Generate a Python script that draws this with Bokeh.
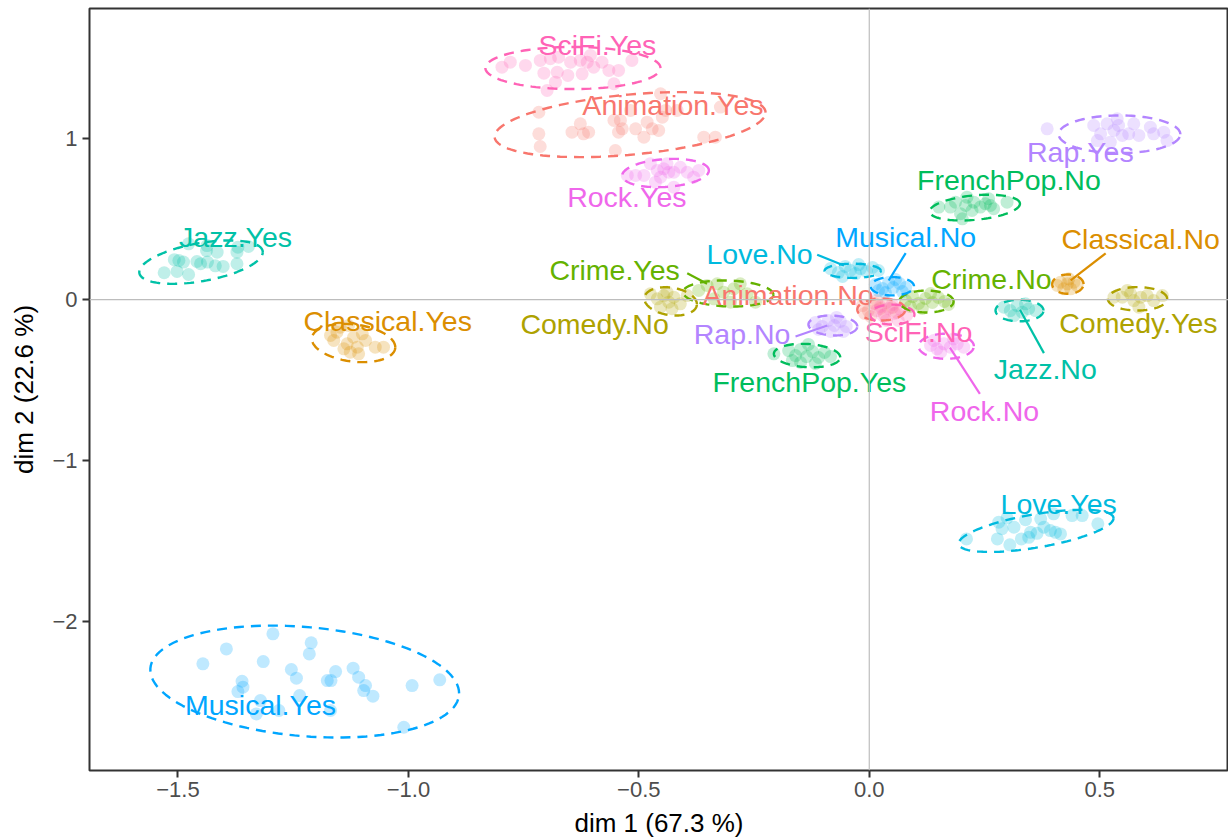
import numpy as np
from bokeh.plotting import figure
from bokeh.models import ColumnDataSource, Span, Range1d, FixedTicker
from bokeh.core.properties import value
from bokeh.embed import file_html
from bokeh.resources import INLINE

# ---------------- data ----------------
CATEGORIES = ["Animation.No", "Animation.Yes", "Classical.No", "Classical.Yes",
              "Comedy.No", "Comedy.Yes", "Crime.No", "Crime.Yes",
              "FrenchPop.No", "FrenchPop.Yes", "Jazz.No", "Jazz.Yes",
              "Love.No", "Love.Yes", "Musical.No", "Musical.Yes",
              "Rap.No", "Rap.Yes", "Rock.No", "Rock.Yes", "SciFi.No", "SciFi.Yes"]

ANIMATION_NO_X = [-0.015, -0.002, 0.011, 0.024, 0.037, 0.050, 0.003, 0.033, 0.059, 0.016, -0.010]
ANIMATION_NO_Y = [-0.037, -0.068, -0.024, -0.055, -0.018, -0.049, -0.105, -0.093, -0.080, -0.006, -0.086]
ANIMATION_YES_X = [-0.717, -0.717, -0.714, -0.645, -0.627, -0.620, -0.609, -0.551, -0.554, -0.540, -0.544, -0.536,
                   -0.507, -0.489, -0.482, -0.471, -0.457, -0.449, -0.453, -0.442, -0.417, -0.359, -0.334, -0.323, -0.518]
ANIMATION_YES_Y = [1.165, 1.031, 0.952, 1.041, 1.093, 1.031, 1.041, 0.927, 1.114, 1.114, 1.041, 1.062,
                   1.062, 1.010, 1.103, 1.062, 1.052, 1.134, 1.280, 1.176, 1.176, 1.010, 1.010, 1.197, 1.176]
CLASSICAL_NO_X = [0.415, 0.430, 0.444, 0.422, 0.437, 0.451, 0.408, 0.433]
CLASSICAL_NO_Y = [0.108, 0.098, 0.108, 0.067, 0.067, 0.088, 0.088, 0.129]
CLASSICAL_YES_X = [-1.169, -1.155, -1.162, -1.133, -1.119, -1.100, -1.093, -1.111, -1.126, -1.140, -1.108,
                   -1.072, -1.054, -1.148, -1.130]
CLASSICAL_YES_Y = [-0.223, -0.203, -0.254, -0.275, -0.234, -0.213, -0.254, -0.296, -0.327, -0.306, -0.337,
                   -0.296, -0.296, -0.172, -0.161]
COMEDY_NO_X = [-0.475, -0.460, -0.446, -0.435, -0.424, -0.410, -0.395, -0.453, -0.428, -0.439]
COMEDY_NO_Y = [0.036, 0.005, 0.025, -0.016, 0.015, -0.026, 0.025, -0.047, -0.057, 0.046]
COMEDY_YES_X = [0.531, 0.549, 0.567, 0.574, 0.589, 0.603, 0.617, 0.636, 0.585, 0.560]
COMEDY_YES_Y = [0.015, 0.015, 0.036, -0.006, 0.015, 0.025, -0.006, 0.025, -0.047, 0.057]
CRIME_NO_X = [0.079, 0.094, 0.107, 0.122, 0.137, 0.150, 0.163, 0.115, 0.133, 0.089, 0.172]
CRIME_NO_Y = [-0.006, 0.019, -0.024, 0.007, -0.018, 0.013, -0.012, -0.055, 0.038, -0.043, -0.030]
CRIME_YES_X = [-0.370, -0.352, -0.330, -0.316, -0.294, -0.280, -0.265, -0.247, -0.301, -0.337]
CRIME_YES_Y = [0.057, 0.088, 0.098, 0.046, 0.067, 0.098, 0.036, -0.016, -0.016, 0.005]
FRENCHPOP_NO_X = [0.151, 0.176, 0.187, 0.198, 0.209, 0.227, 0.223, 0.241, 0.252, 0.263, 0.270, 0.299,
                  0.202, 0.212, 0.259]
FRENCHPOP_NO_Y = [0.575, 0.575, 0.606, 0.534, 0.585, 0.606, 0.554, 0.575, 0.596, 0.585, 0.565, 0.606,
                  0.502, 0.637, 0.627]
FRENCHPOP_YES_X = [-0.207, -0.175, -0.160, -0.149, -0.136, -0.123, -0.110, -0.097, -0.084, -0.149, -0.117,
                   -0.167, -0.132]
FRENCHPOP_YES_Y = [-0.337, -0.317, -0.348, -0.310, -0.354, -0.323, -0.360, -0.329, -0.354, -0.391, -0.397,
                   -0.379, -0.279]
JAZZ_NO_X = [0.292, 0.306, 0.321, 0.332, 0.346, 0.361, 0.314, 0.339]
JAZZ_NO_Y = [-0.047, -0.068, -0.037, -0.078, -0.057, -0.068, -0.099, -0.026]
JAZZ_YES_X = [-1.530, -1.502, -1.477, -1.508, -1.498, -1.488, -1.459, -1.451, -1.436, -1.438, -1.415,
              -1.419, -1.402, -1.372, -1.372, -1.370, -1.347, -1.477, -1.437]
JAZZ_YES_Y = [0.167, 0.175, 0.156, 0.248, 0.243, 0.233, 0.237, 0.223, 0.233, 0.305, 0.295,
              0.210, 0.206, 0.223, 0.295, 0.326, 0.330, 0.347, 0.336]
LOVE_NO_X = [-0.084, -0.067, -0.052, -0.041, -0.030, -0.019, -0.006, 0.007, 0.020, -0.058, -0.023]
LOVE_NO_Y = [0.193, 0.168, 0.206, 0.181, 0.162, 0.193, 0.175, 0.200, 0.181, 0.144, 0.218]
LOVE_YES_X = [0.211, 0.281, 0.299, 0.288, 0.278, 0.305, 0.314, 0.339, 0.330, 0.350, 0.364, 0.379,
              0.393, 0.404, 0.415, 0.400, 0.440, 0.462, 0.496, 0.372, 0.346]
LOVE_YES_Y = [-1.488, -1.384, -1.357, -1.425, -1.488, -1.525, -1.415, -1.369, -1.488, -1.447, -1.453, -1.415,
              -1.436, -1.447, -1.457, -1.332, -1.343, -1.343, -1.394, -1.363, -1.478]
MUSICAL_NO_X = [0.013, 0.029, 0.042, 0.052, 0.066, 0.079, 0.035, 0.057, 0.020, 0.072]
MUSICAL_NO_Y = [0.094, 0.069, 0.106, 0.075, 0.100, 0.075, 0.044, 0.125, 0.056, 0.050]
MUSICAL_YES_X = [-1.446, -1.395, -1.294, -1.315, -1.254, -1.243, -1.211, -1.215, -1.158, -1.176, -1.168,
                 -1.120, -1.108, -1.093, -1.097, -1.077, -0.992, -0.932, -1.010, -1.361, -1.359, -1.370,
                 -1.321, -1.330, -1.281, -1.236, -1.169]
MUSICAL_YES_Y = [-2.265, -2.172, -2.078, -2.251, -2.300, -2.354, -2.134, -2.203, -2.313, -2.369, -2.369,
                 -2.292, -2.348, -2.400, -2.431, -2.466, -2.400, -2.364, -2.659, -2.373, -2.410, -2.437,
                 -2.493, -2.576, -2.555, -2.462, -2.555]
RAP_NO_X = [-0.117, -0.102, -0.089, -0.076, -0.063, -0.050, -0.084, -0.056, -0.110, -0.071]
RAP_NO_Y = [-0.142, -0.167, -0.130, -0.161, -0.136, -0.167, -0.198, -0.198, -0.186, -0.111]
RAP_YES_X = [0.386, 0.487, 0.502, 0.516, 0.531, 0.541, 0.549, 0.563, 0.574, 0.585, 0.610, 0.617,
             0.639, 0.646, 0.523, 0.495, 0.538]
RAP_YES_Y = [1.062, 1.083, 1.031, 1.093, 1.052, 1.083, 1.021, 1.031, 1.093, 1.021, 1.072, 1.031,
             1.041, 0.989, 0.979, 0.989, 1.124]
ROCK_NO_X = [0.133, 0.147, 0.162, 0.176, 0.191, 0.205, 0.155, 0.183, 0.140]
ROCK_NO_Y = [-0.285, -0.306, -0.275, -0.296, -0.275, -0.296, -0.327, -0.244, -0.254]
ROCK_YES_X = [-0.525, -0.507, -0.489, -0.475, -0.460, -0.453, -0.446, -0.435, -0.424, -0.410, -0.395,
              -0.370, -0.381, -0.464, -0.439, -0.424]
ROCK_YES_Y = [0.772, 0.772, 0.772, 0.845, 0.803, 0.761, 0.813, 0.792, 0.792, 0.823, 0.792,
              0.803, 0.761, 0.730, 0.845, 0.699]
SCIFI_NO_X = [0.016, 0.029, 0.042, 0.055, 0.068, 0.081, 0.037, 0.063, 0.024, 0.050]
SCIFI_NO_Y = [-0.068, -0.099, -0.055, -0.086, -0.062, -0.099, -0.130, -0.130, -0.043, -0.030]
SCIFI_YES_X = [-0.797, -0.779, -0.746, -0.714, -0.706, -0.681, -0.677, -0.654, -0.699, -0.692, -0.674,
               -0.648, -0.627, -0.623, -0.605, -0.598, -0.580, -0.565, -0.544, -0.554, -0.515, -0.612]
SCIFI_YES_Y = [1.445, 1.476, 1.456, 1.487, 1.408, 1.352, 1.414, 1.394, 1.300, 1.498, 1.507,
               1.476, 1.487, 1.404, 1.518, 1.445, 1.476, 1.425, 1.425, 1.342, 1.487, 1.476]

POINTS_X = [ANIMATION_NO_X, ANIMATION_YES_X, CLASSICAL_NO_X, CLASSICAL_YES_X, COMEDY_NO_X, COMEDY_YES_X,
            CRIME_NO_X, CRIME_YES_X, FRENCHPOP_NO_X, FRENCHPOP_YES_X, JAZZ_NO_X, JAZZ_YES_X,
            LOVE_NO_X, LOVE_YES_X, MUSICAL_NO_X, MUSICAL_YES_X, RAP_NO_X, RAP_YES_X,
            ROCK_NO_X, ROCK_YES_X, SCIFI_NO_X, SCIFI_YES_X]
POINTS_Y = [ANIMATION_NO_Y, ANIMATION_YES_Y, CLASSICAL_NO_Y, CLASSICAL_YES_Y, COMEDY_NO_Y, COMEDY_YES_Y,
            CRIME_NO_Y, CRIME_YES_Y, FRENCHPOP_NO_Y, FRENCHPOP_YES_Y, JAZZ_NO_Y, JAZZ_YES_Y,
            LOVE_NO_Y, LOVE_YES_Y, MUSICAL_NO_Y, MUSICAL_YES_Y, RAP_NO_Y, RAP_YES_Y,
            ROCK_NO_Y, ROCK_YES_Y, SCIFI_NO_Y, SCIFI_YES_Y]

# ellipse centre, spread and correlation per category
ELL_CX = [0.026, -0.519, 0.431, -1.119, -0.431, 0.582, 0.124, -0.306, 0.229, -0.135, 0.326, -1.450,
          -0.036, 0.362, 0.050, -1.225, -0.079, 0.543, 0.167, -0.442, 0.050, -0.643]
ELL_CY = [-0.062, 1.088, 0.096, -0.270, -0.011, 0.005, -0.012, 0.038, 0.572, -0.348, -0.068, 0.233,
          0.179, -1.438, 0.083, -2.375, -0.161, 1.028, -0.290, 0.787, -0.093, 1.440]
ELL_SX = [0.052, 0.294, 0.034, 0.0905, 0.057, 0.0644, 0.059, 0.098, 0.098, 0.072, 0.052, 0.134,
          0.061, 0.168, 0.047, 0.335, 0.053, 0.132, 0.060, 0.094, 0.048, 0.190]
ELL_SY = [0.068, 0.202, 0.060, 0.119, 0.088, 0.0727, 0.068, 0.081, 0.080, 0.073, 0.067, 0.135,
          0.044, 0.131, 0.057, 0.348, 0.062, 0.117, 0.078, 0.088, 0.062, 0.131]
ELL_RHO = [0.0, 0.37, 0.0, -0.22, -0.2, 0.0, 0.0, -0.1, 0.3, -0.15, 0.0, 0.46,
           0.0, 0.6, 0.0, -0.21, -0.1, 0.0, 0.0, 0.18, 0.0, 0.0]

# label positions
LABEL_X = [-0.176, -0.426, 0.589, -1.045, -0.596, 0.584, 0.265, -0.5525, 0.303, -0.130, 0.382, -1.375,
           -0.238, 0.411, 0.079, -1.321, -0.276, 0.458, 0.250, -0.526, 0.107, -0.590]
LABEL_Y = [0.026, 1.207, 0.378, -0.130, -0.150, -0.147, 0.129, 0.181, 0.741, -0.514, -0.430, 0.388,
           0.285, -1.268, 0.388, -2.519, -0.213, 0.917, -0.690, 0.637, -0.203, 1.580]

# leader lines
SEG_CAT = ["Classical.No", "Jazz.No", "Rock.No", "Love.No", "Musical.No", "Rap.No", "Crime.Yes"]
SEG_X0 = [0.513, 0.379, 0.240, -0.113, 0.079, -0.160, -0.395]
SEG_Y0 = [0.288, -0.333, -0.586, 0.279, 0.289, -0.229, 0.164]
SEG_X1 = [0.437, 0.327, 0.175, -0.055, 0.042, -0.091, -0.352]
SEG_Y1 = [0.119, -0.063, -0.299, 0.212, 0.119, -0.161, 0.098]

X_TICKS = [-1.5, -1.0, -0.5, 0.0, 0.5]
X_TICK_LABELS = ["\u22121.5", "\u22121.0", "\u22120.5", "0.0", "0.5"]
Y_TICKS = [-2, -1, 0, 1]
Y_TICK_LABELS = ["\u22122", "\u22121", "0", "1"]
X_TITLE = "dim 1 (67.3 %)"
Y_TITLE = "dim 2 (22.6 %)"

# ---------------- styles ----------------
VAR_COLORS = {"Animation": "#F8766D", "Classical": "#DB8E00", "Comedy": "#AEA200", "Crime": "#64B200",
              "FrenchPop": "#00BD5C", "Jazz": "#00C1A7", "Love": "#00BADE", "Musical": "#00A6FF",
              "Rap": "#B385FF", "Rock": "#EF67EB", "SciFi": "#FF63B6"}
def col(cat):
    return VAR_COLORS[cat.split(".")[0]]

FONT = "Liberation Sans"

p = figure(width=1228, height=840, output_backend="svg", toolbar_location=None,
           x_range=Range1d(-1.692, 0.7795), y_range=Range1d(-2.928, 1.810),
           min_border_left=89, min_border_right=0, min_border_top=8, min_border_bottom=70)
p.background_fill_color = "white"
p.border_fill_color = "white"
p.outline_line_color = "#333333"
p.outline_line_width = 2
p.xgrid.visible = False
p.ygrid.visible = False

p.add_layout(Span(location=0, dimension="height", line_color="#BDBDBD", line_width=1.2))
p.add_layout(Span(location=0, dimension="width", line_color="#BDBDBD", line_width=1.2))

# points
px, py, pc = [], [], []
for cat, xs, ys in zip(CATEGORIES, POINTS_X, POINTS_Y):
    px += xs
    py += ys
    pc += [col(cat)] * len(xs)
p.scatter(x="x", y="y", color="c", source=ColumnDataSource(dict(x=px, y=py, c=pc)),
          size=13, fill_alpha=0.25, line_alpha=0)

# ellipses
t = np.linspace(0, 2 * np.pi, 120)
exs, eys, ecs = [], [], []
for cat, cx, cy, sx, sy, r in zip(CATEGORIES, ELL_CX, ELL_CY, ELL_SX, ELL_SY, ELL_RHO):
    exs.append(list(cx + sx * np.cos(t)))
    eys.append(list(cy + sy * (r * np.cos(t) + np.sqrt(1 - r * r) * np.sin(t))))
    ecs.append(col(cat))
p.multi_line(xs="xs", ys="ys", line_color="c", source=ColumnDataSource(dict(xs=exs, ys=eys, c=ecs)),
             line_width=2.4, line_dash="10 7")

# leader lines
p.segment(x0="x0", y0="y0", x1="x1", y1="y1", line_color="c",
          source=ColumnDataSource(dict(x0=SEG_X0, y0=SEG_Y0, x1=SEG_X1, y1=SEG_Y1,
                                       c=[col(c) for c in SEG_CAT])), line_width=2.2)

# labels
p.text(x="x", y="y", text="t", text_color="c",
       source=ColumnDataSource(dict(x=LABEL_X, y=LABEL_Y, t=CATEGORIES, c=[col(c) for c in CATEGORIES])),
       text_font=value(FONT), text_font_size="28.5px", text_align="center", text_baseline="middle")

# axes
for ax, ticks, labels in ((p.xaxis, X_TICKS, X_TICK_LABELS), (p.yaxis, Y_TICKS, Y_TICK_LABELS)):
    ax.ticker = FixedTicker(ticks=ticks)
    ax.major_label_overrides = {tk: lb for tk, lb in zip(ticks, labels)}
    ax.minor_tick_line_color = None
    ax.major_tick_in = 0
    ax.major_tick_out = 7
    ax.major_tick_line_color = "#333333"
    ax.major_tick_line_width = 2
    ax.axis_line_color = None
    ax.major_label_text_font = FONT
    ax.major_label_text_font_size = "22px"
    ax.major_label_text_color = "#4D4D4D"
    ax.axis_label_text_font = FONT
    ax.axis_label_text_font_size = "26px"
    ax.axis_label_text_font_style = "normal"
    ax.axis_label_text_color = "black"
p.xaxis.axis_label = X_TITLE
p.yaxis.axis_label = Y_TITLE
p.xaxis.major_label_standoff = 4
p.xaxis.axis_label_standoff = 8
p.yaxis.major_label_standoff = 5
p.yaxis.axis_label_standoff = 10
p.yaxis.major_label_orientation = "horizontal"

open("out.html", "w").write(file_html(p, INLINE))
